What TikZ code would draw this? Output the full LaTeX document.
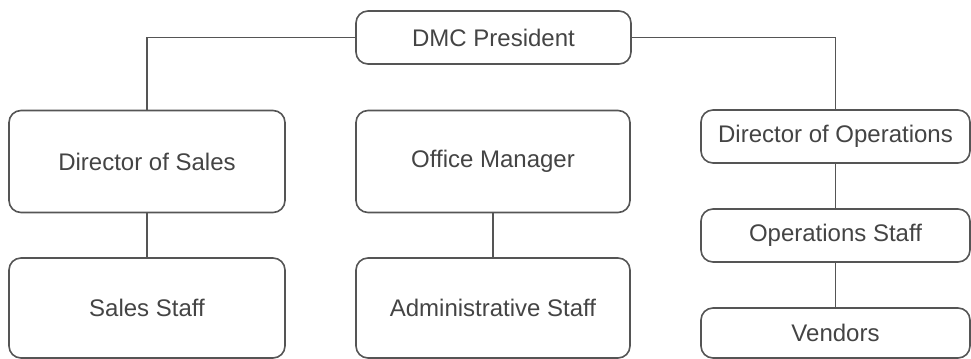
\documentclass[tikz,border=0pt]{standalone}
\usepackage{fontspec}
\setmainfont{Liberation Sans}
\usepackage{tikz}
\usetikzlibrary{positioning}
\definecolor{linegray}{RGB}{85,85,85}
\definecolor{textgray}{RGB}{68,68,68}

\begin{document}
\begin{tikzpicture}[x=0.5pt,y=-0.5pt,
box/.style={draw=linegray,line width=0.8pt,rounded corners=6pt,text=textgray,
  font=\fontsize{12}{14}\selectfont,inner sep=0pt},
tallbox/.style={box,minimum width=138pt,minimum height=51pt},
flatbox/.style={box,minimum width=134.5pt,minimum height=26.5pt},
link/.style={draw=linegray,line width=0.8pt}]
\useasboundingbox (0,0) rectangle (971,359);
% top
\node[box,minimum width=137.5pt,minimum height=26.5pt] (pres) at (493.5,37.5) {DMC President};
% sales
\node[tallbox] (dsales) at (147,161.5) {Director of Sales};
\node[tallbox,minimum height=50pt] (sstaff) at (147,308) {Sales Staff};
% office
\node[tallbox,minimum width=137pt] (office) at (493,161.5) {Office Manager};
\node[tallbox,minimum width=137pt,minimum height=50pt] (admin) at (493,308) {Administrative Staff};
% operations
\node[flatbox] (dops) at (835.5,136.5) {Director of Operations};
\node[flatbox] (ostaff) at (835.5,235.5) {Operations Staff};
\node[flatbox,minimum height=25pt] (vend) at (835.5,333) {Vendors};
% links
\draw[link] (pres.west) -| (dsales.north);
\draw[link] (pres.east) -| (dops.north);
\draw[link] (dsales) -- (sstaff);
\draw[link] (office) -- (admin);
\draw[link] (dops) -- (ostaff);
\draw[link] (ostaff) -- (vend);
\end{tikzpicture}
\end{document}
